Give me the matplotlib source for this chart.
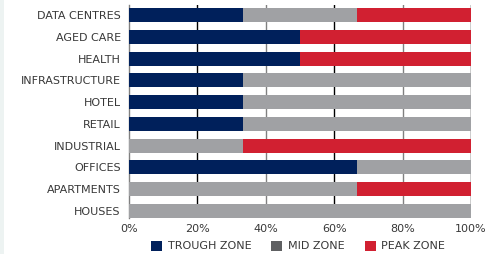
import matplotlib.pyplot as plt
from matplotlib.patches import Patch, Rectangle

categories = ["DATA CENTRES", "AGED CARE", "HEALTH", "INFRASTRUCTURE", "HOTEL",
              "RETAIL", "INDUSTRIAL", "OFFICES", "APARTMENTS", "HOUSES"]
trough = [33.3, 50.0, 50.0, 33.3, 33.3, 33.3, 0.0, 66.7, 0.0, 0.0]
mid = [33.3, 0.0, 0.0, 66.7, 66.7, 66.7, 33.3, 33.3, 66.7, 100.0]
peak = [33.4, 50.0, 50.0, 0.0, 0.0, 0.0, 66.7, 0.0, 33.3, 0.0]
series_names = ["TROUGH ZONE", "MID ZONE", "PEAK ZONE"]
x_ticks = [0, 20, 40, 60, 80, 100]

NAVY = "#00205b"
GREY = "#a0a1a4"
RED = "#d12031"
TEXT = "#383838"

plt.rcParams.update({"font.family": "DejaVu Sans", "font.size": 8})

fig = plt.figure(figsize=(4.97, 2.54), dpi=100)
fig.patches.append(Rectangle((0, 0), 4 / 497, 1, transform=fig.transFigure,
                             facecolor="#edf3f2", edgecolor="none", zorder=0))
ax = fig.add_axes([129 / 497, 1 - 218 / 254, 342 / 497, 213 / 254])

y = range(len(categories))
h = 0.645
ax.barh(y, trough, height=h, color=NAVY, zorder=3)
ax.barh(y, mid, left=trough, height=h, color=GREY, zorder=3)
left2 = [a + b for a, b in zip(trough, mid)]
ax.barh(y, peak, left=left2, height=h, color=RED, zorder=3)

grid_colors = {20: "black", 40: "#808080", 60: "black", 80: "#808080", 100: "black"}
for xv, c in grid_colors.items():
    ax.axvline(xv, color=c, lw=1.0, zorder=1)

ax.set_xlim(0, 100)
ax.set_ylim(9.33, -0.46)
ax.set_yticks(list(y))
ax.set_yticklabels(categories, color=TEXT, fontsize=8)
ax.set_xticks(x_ticks)
ax.set_xticklabels([f"{v}%" for v in x_ticks], color=TEXT, fontsize=8)
ax.tick_params(axis="y", length=0, pad=6)
ax.tick_params(axis="x", length=0, pad=4)
for s in ["top", "right", "bottom"]:
    ax.spines[s].set_visible(False)
ax.spines["left"].set_color("#808080")
ax.spines["left"].set_linewidth(1.0)

handles = [Patch(facecolor=NAVY), Patch(facecolor="#5f6062"), Patch(facecolor=RED)]
fig.legend(handles, series_names, loc="center", bbox_to_anchor=(298 / 497, 1 - 246 / 254),
           ncol=3, frameon=False, fontsize=8, handlelength=1.0, handleheight=1.0,
           handletextpad=0.5, columnspacing=1.8, labelcolor=TEXT, borderpad=0)

fig.savefig("out.png", dpi=100)
